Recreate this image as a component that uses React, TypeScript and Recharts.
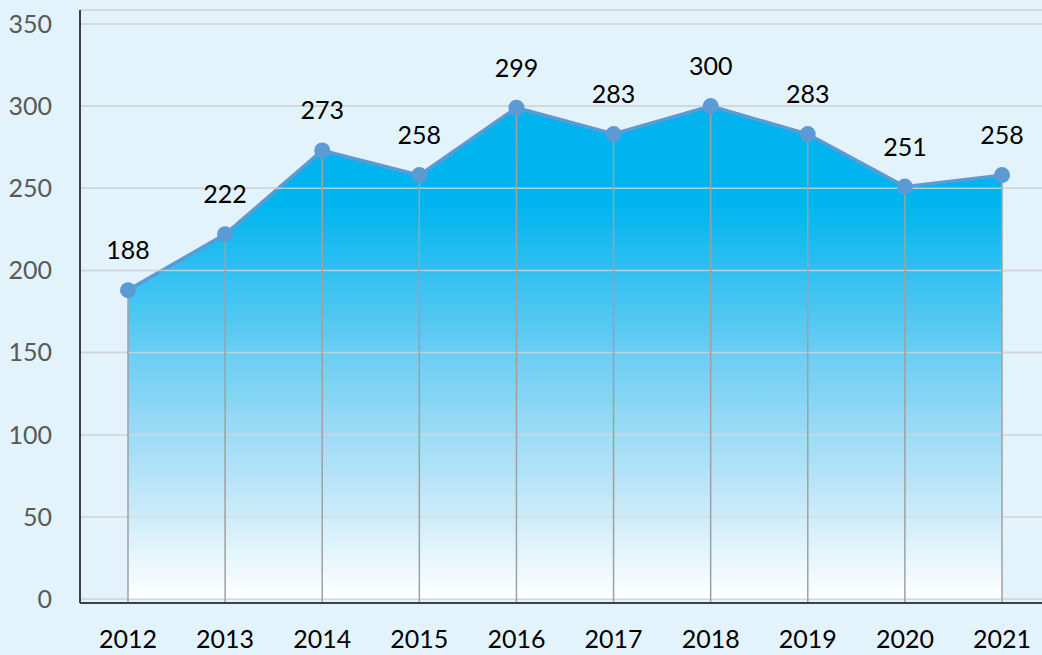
import React from "react";
import { AreaChart, Area, XAxis, YAxis, CartesianGrid, ReferenceLine, LabelList } from "recharts";

const years = ["2012", "2013", "2014", "2015", "2016", "2017", "2018", "2019", "2020", "2021"];
const values = [188, 222, 273, 258, 299, 283, 300, 283, 251, 258];
const yTicks = [0, 50, 100, 150, 200, 250, 300, 350];
const yDomain = [-2.43, 358.5];

const data = years.map((y, i) => ({ year: y, value: values[i] }));

const FONT = "Lato, 'Noto Sans', sans-serif";

export default function App() {
  return (
    <div style={{ position: "absolute", left: 0, top: 0, width: 1042, height: 655, overflow: "hidden", background: "#E3F3FB" }}>
      <AreaChart width={1050} height={655} data={data} margin={{ top: 10, right: 0, bottom: 0, left: 0 }}>
        <defs>
          <linearGradient id="areaFill" x1="0" y1="0" x2="0" y2="1">
            <stop offset="0" stopColor="#00B3EE" />
            <stop offset="0.2" stopColor="#00B5EF" />
            <stop offset="0.5" stopColor="#6BCDF3" />
            <stop offset="0.75" stopColor="#B5E3F7" />
            <stop offset="1" stopColor="#FFFFFF" />
          </linearGradient>
        </defs>
        <CartesianGrid vertical={false} stroke="#D0D0D0" strokeWidth={1.5} />
        <XAxis
          dataKey="year"
          padding={{ left: 48, right: 48 }}
          height={52}
          tickLine={false}
          tickSize={0}
          tickMargin={27}
          axisLine={{ stroke: "#404040", strokeWidth: 2 }}
          tick={{ fill: "#000000", fontSize: 25, fontFamily: FONT }}
          interval={0}
        />
        <YAxis
          type="number"
          domain={yDomain}
          ticks={yTicks}
          width={80}
          tickLine={false}
          tickSize={0}
          tickMargin={28}
          axisLine={{ stroke: "#404040", strokeWidth: 2 }}
          tick={{ fill: "#595959", fontSize: 25, fontFamily: FONT }}
          allowDataOverflow
        />
        <Area
          type="linear"
          dataKey="value"
          baseValue={0}
          stroke="#5B9BD5"
          strokeWidth={3.5}
          fill="url(#areaFill)"
          fillOpacity={1}
          isAnimationActive={false}
          dot={{ r: 8, fill: "#5B9BD5", stroke: "#5B9BD5", strokeWidth: 0, fillOpacity: 1 }}
          activeDot={false}
        >
          <LabelList dataKey="value" position="top" offset={31} fill="#000000" fontSize={25} fontFamily={FONT} />
        </Area>
        {yTicks.map((t) => (
          <ReferenceLine key={"h" + t} y={t} stroke="#D3D8DB" strokeWidth={1.5} strokeOpacity={0.8} />
        ))}
        {data.map((d) => (
          <ReferenceLine
            key={"v" + d.year}
            segment={[
              { x: d.year, y: yDomain[0] },
              { x: d.year, y: d.value },
            ]}
            stroke="#A0A0A0"
            strokeWidth={1.5}
          />
        ))}
      </AreaChart>
    </div>
  );
}
